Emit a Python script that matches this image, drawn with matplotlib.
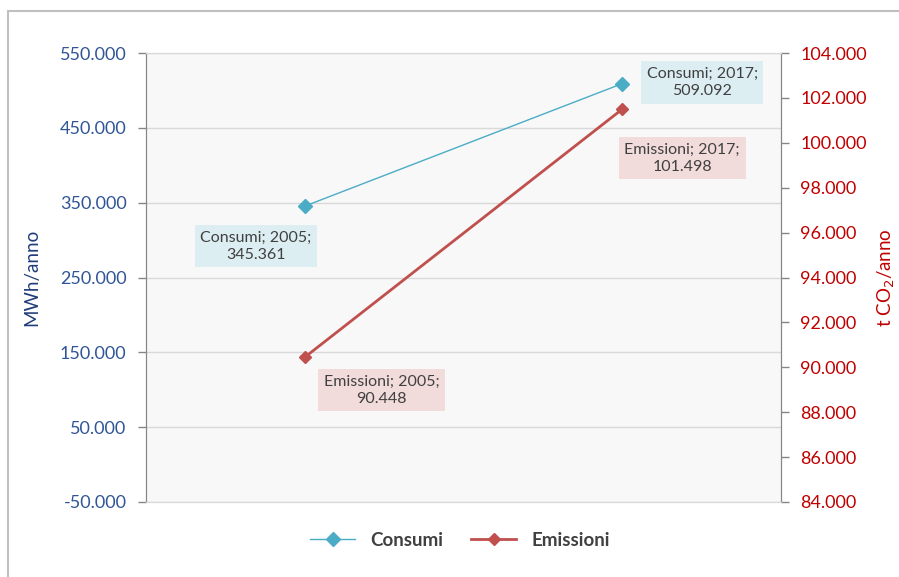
import matplotlib.pyplot as plt
from matplotlib.patches import Rectangle

# data
anni = ['2005', '2017']
consumi = [345361, 509092]      # MWh/anno
emissioni = [90448, 101498]     # t CO2/anno

left_ticks = list(range(-50000, 550001, 100000))
right_ticks = list(range(84000, 104001, 2000))

BLU = '#4BACC6'
ROSSO = '#C0504D'
BLU_TXT = '#2F5597'
ROSSO_TXT = '#C00000'


def fmt(v):
    return '{:,.0f}'.format(v).replace(',', '.')


plt.rcParams['font.family'] = ['Lato', 'DejaVu Sans']

fig = plt.figure(figsize=(8.99, 5.77), dpi=100)
# outer chart frame
fig.patches.append(Rectangle((8 / 899, -0.01), 1.0, 1 - 11 / 577 + 0.01,
                             transform=fig.transFigure, fill=False,
                             edgecolor='#BFBFBF', linewidth=1.5))

ax = fig.add_axes([146 / 899, 75 / 577, 635 / 899, 449 / 577])
ax.set_facecolor('#F8F8F8')
ax2 = ax.twinx()

x = [0, 1]
ax.plot(x, consumi, color=BLU, linewidth=1, marker='D', markersize=7,
        label='Consumi')
ax2.plot(x, emissioni, color=ROSSO, linewidth=2, marker='D', markersize=6,
         label='Emissioni')

ax.set_xlim(-0.5, 1.5)
ax.set_ylim(-50000, 550000)
ax2.set_ylim(84000, 104000)
ax.set_xticks([])
ax.set_yticks(left_ticks)
ax.set_yticklabels([fmt(v) for v in left_ticks], color=BLU_TXT, fontsize=13)
ax2.set_yticks(right_ticks)
ax2.set_yticklabels([fmt(v) for v in right_ticks], color=ROSSO_TXT, fontsize=13)
ax.grid(axis='y', color='#D9D9D9', linewidth=1)
ax.set_axisbelow(True)

for a in (ax, ax2):
    a.spines['top'].set_color('#D9D9D9')
    a.spines['left'].set_color('#868686')
    a.spines['right'].set_color('#868686')
    a.spines['bottom'].set_color('#D9D9D9')
    a.tick_params(axis='y', length=6, width=1, color='#868686', pad=8)

ax.set_ylabel('MWh/anno', color='#1F3D7A', fontsize=13.5, labelpad=14)
ax2.set_ylabel('t CO$_2$/anno', color=ROSSO_TXT, fontsize=13.5, labelpad=6)

# data labels
lab_c = [(-49, -40), (80, 1)]
lab_e = [(77, -33), (60, -49)]
for i in range(2):
    ax.annotate('Consumi; {};\n{}'.format(anni[i], fmt(consumi[i])),
                (x[i], consumi[i]), xytext=lab_c[i], textcoords='offset pixels',
                ha='center', va='center', fontsize=11.5, color='#404040',
                linespacing=1.3,
                bbox=dict(boxstyle='square,pad=0.35', fc='#DDEEF3', ec='none'))
    ax2.annotate('Emissioni; {};\n{}'.format(anni[i], fmt(emissioni[i])),
                 (x[i], emissioni[i]), xytext=lab_e[i], textcoords='offset pixels',
                 ha='center', va='center', fontsize=11.5, color='#404040',
                 linespacing=1.3,
                 bbox=dict(boxstyle='square,pad=0.35', fc='#F2DCDB', ec='none'))

h1, l1 = ax.get_legend_handles_labels()
h2, l2 = ax2.get_legend_handles_labels()
fig.legend(h1 + h2, l1 + l2, loc='center', bbox_to_anchor=(460 / 899, 1 - 540 / 577),
           ncol=2, frameon=False, prop={'weight': 'bold', 'size': 13.5},
           labelcolor='#404040', handlelength=2.4, columnspacing=1.5)

fig.savefig('out.png', dpi=100)
